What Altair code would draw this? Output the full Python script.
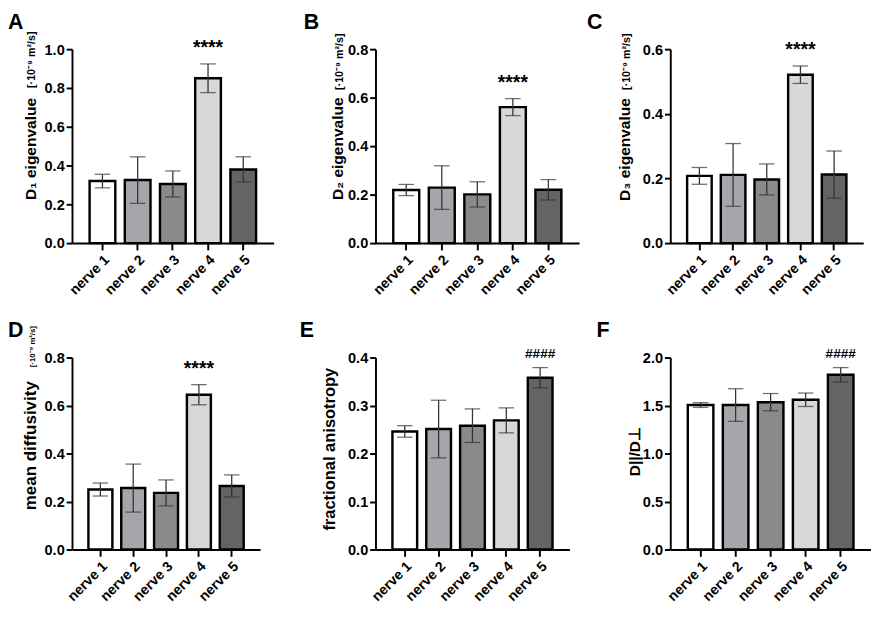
import altair as alt
import pandas as pd

FONT = "Liberation Sans"

nerves = ["nerve 1", "nerve 2", "nerve 3", "nerve 4", "nerve 5"]
fills = ["#ffffff", "#a6a5ab", "#8a8a8a", "#d8d8d8", "#646464"]

# Panel A: D1 eigenvalue (mean, SD)
d1_mean = [0.32, 0.325, 0.305, 0.85, 0.38]
d1_err = [0.035, 0.12, 0.067, 0.074, 0.065]
d1_sig = ["", "", "", "****", ""]
d1_ticks = [0.0, 0.2, 0.4, 0.6, 0.8, 1.0]

# Panel B: D2 eigenvalue
d2_mean = [0.219, 0.229, 0.201, 0.561, 0.22]
d2_err = [0.023, 0.09, 0.052, 0.035, 0.042]
d2_sig = ["", "", "", "****", ""]
d2_ticks = [0.0, 0.2, 0.4, 0.6, 0.8]

# Panel C: D3 eigenvalue
d3_mean = [0.208, 0.211, 0.197, 0.521, 0.212]
d3_err = [0.026, 0.097, 0.048, 0.027, 0.073]
d3_sig = ["", "", "", "****", ""]
d3_ticks = [0.0, 0.2, 0.4, 0.6]

# Panel D: mean diffusivity
md_mean = [0.25, 0.256, 0.236, 0.645, 0.265]
md_err = [0.027, 0.1, 0.054, 0.042, 0.046]
md_sig = ["", "", "", "****", ""]
md_ticks = [0.0, 0.2, 0.4, 0.6, 0.8]

# Panel E: fractional anisotropy
fa_mean = [0.246, 0.251, 0.258, 0.269, 0.358]
fa_err = [0.012, 0.06, 0.035, 0.026, 0.021]
fa_sig = ["", "", "", "", "####"]
fa_ticks = [0.0, 0.1, 0.2, 0.3, 0.4]

# Panel F: D||/D⊥
rat_mean = [1.505, 1.505, 1.535, 1.56, 1.82]
rat_err = [0.025, 0.17, 0.09, 0.07, 0.075]
rat_sig = ["", "", "", "", "####"]
rat_ticks = [0.0, 0.5, 1.0, 1.5, 2.0]

UNITS = "[·10⁻⁹ m²/s]"


def panel(mean, err, sig, ticks, title, letter, width, height,
          tx, ty, letter_dx, units=None, uy=0, ufs=11, sigfs=20, tfs=16):
    df = pd.DataFrame({"nerve": nerves, "mean": mean, "err": err, "sig": sig})
    ymax = ticks[-1]
    base = alt.Chart(df).transform_calculate(
        lo="datum.mean - datum.err", hi="datum.mean + datum.err"
    )
    xaxis = alt.Axis(
        title=None, labelAngle=-45, labelFont=FONT, labelFontSize=14.5,
        labelFontWeight="bold", labelColor="black", domainColor="black",
        domainWidth=2, tickColor="black", tickWidth=2, tickSize=7,
        labelPadding=3,
    )
    yaxis = alt.Axis(
        values=ticks, format=".1f", grid=False, title=title,
        titleFont=FONT, titleFontSize=tfs, titleFontWeight="bold",
        titleColor="black", titleAngle=270, titleAlign="left",
        titleBaseline="alphabetic", titleX=tx, titleY=ty,
        labelFont=FONT, labelFontSize=15, labelFontWeight="bold",
        labelColor="black", domainColor="black", domainWidth=2,
        tickColor="black", tickWidth=2, tickSize=6, labelPadding=2,
    )
    xscale = alt.Scale(domain=nerves, paddingInner=0.27, paddingOuter=0.5)
    yscale = alt.Scale(domain=[0, ymax], nice=False)

    def X():
        return alt.X("nerve:N", sort=nerves, scale=xscale, axis=xaxis)

    def Y(f):
        return alt.Y(f, scale=yscale, axis=yaxis)

    bars = base.mark_bar(stroke="black", strokeWidth=2.5).encode(
        x=X(), y=Y("mean:Q"),
        fill=alt.Fill("nerve:N", scale=alt.Scale(domain=nerves, range=fills), legend=None),
    )
    rule = base.mark_rule(color="#333333", strokeWidth=1.3).encode(
        x=X(), y=Y("lo:Q"), y2="hi:Q"
    )
    cap_hi = base.mark_tick(color="#333333", thickness=1.3, size=16).encode(
        x=X(), y=Y("hi:Q")
    )
    cap_lo = base.mark_tick(color="#333333", thickness=1.3, size=16).encode(
        x=X(), y=Y("lo:Q")
    )
    sig_text = base.transform_filter("datum.sig != ''").mark_text(
        font=FONT, fontSize=sigfs, fontWeight="bold", baseline="alphabetic",
        dy=-10, color="black",
    ).encode(x=X(), y=Y("hi:Q"), text="sig:N")
    letter_text = alt.Chart(pd.DataFrame({"t": [letter]})).mark_text(
        font=FONT, fontSize=22, fontWeight="bold", align="left",
        baseline="alphabetic", color="black",
    ).encode(x=alt.value(letter_dx), y=alt.value(-21), text="t:N")
    layers = [bars, rule, cap_lo, cap_hi, sig_text, letter_text]
    if units:
        units_text = alt.Chart(pd.DataFrame({"u": [units]})).mark_text(
            font=FONT, fontSize=ufs, fontWeight="bold", angle=270,
            align="left", baseline="alphabetic", color="black",
        ).encode(x=alt.value(tx), y=alt.value(uy), text="u:N")
        layers.append(units_text)
    return alt.layer(*layers).properties(width=width, height=height)


def spacer(width, height):
    return alt.Chart(pd.DataFrame({"t": [""]})).mark_text().encode(
        text="t:N"
    ).properties(width=width, height=height)


pA = panel(d1_mean, d1_err, d1_sig, d1_ticks, "D₁ eigenvalue", "A", 208, 200,
           -38, 155, -66, UNITS, 40)
pB = panel(d2_mean, d2_err, d2_sig, d2_ticks, "D₂ eigenvalue", "B", 210, 200,
           -34, 155, -74, UNITS, 42)
pC = panel(d3_mean, d3_err, d3_sig, d3_ticks, "D₃ eigenvalue", "C", 199, 200,
           -42, 156, -86, UNITS, 42)
pD = panel(md_mean, md_err, md_sig, md_ticks, "mean diffusivity", "D", 194, 198,
           -38, 157, -66, UNITS, 10, ufs=8, tfs=17.5)
pE = panel(fa_mean, fa_err, fa_sig, fa_ticks, "fractional anisotropy", "E", 200, 198,
           -42, 178, -78, sigfs=14, tfs=17)
pF = panel(rat_mean, rat_err, rat_sig, rat_ticks, "D||/D⊥", "F", 207, 198,
           -32, 122, -76, sigfs=14)

chart = alt.concat(
    pA, spacer(85, 200), pB, spacer(94, 200), pC,
    pD, spacer(105, 198), pE, spacer(89, 198), pF,
    columns=5,
    spacing={"row": 118, "column": 0},
    bounds="flush",
    align={"row": "all", "column": "none"},
).properties(
    padding={"left": 0, "top": -6, "right": 0, "bottom": 0}
).configure(font=FONT).configure_view(stroke="transparent", strokeWidth=0)

chart.save("out.html", embed_options={"renderer": "svg", "actions": False})
